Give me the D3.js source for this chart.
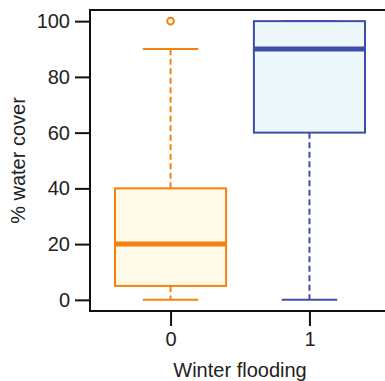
<!DOCTYPE html>
<html><head><meta charset="utf-8">
<script src="https://cdn.jsdelivr.net/npm/d3@7"></script>
<style>html,body{margin:0;padding:0;background:#fff;overflow:hidden}</style>
</head><body>
<svg id="c" width="385" height="381"></svg>
<script>
const categories = ["0", "1"];
const q1 = [5, 60];
const medians = [20, 90];
const q3 = [40, 100];
const whiskerLow = [0, 0];
const whiskerHigh = [90, 100];
const outliers = [[100], []];
const yTicks = [0, 20, 40, 60, 80, 100];
const strokeColors = ["#F5820F", "#3F4DAA"];
const fillColors = ["#FFF9E8", "#EDF8FA"];

const svg = d3.select("#c");
const font = "'Liberation Sans', Arial, Helvetica, sans-serif";
const fs = 20;
const L = 90, R = 390, T = 10, B = 311;
const x = d3.scaleLinear().domain([0.42, 2.58]).range([L, R]);
const y = d3.scaleLinear().domain([-4, 104]).range([B, T]);
const hw = 0.4, sw = 0.2;

categories.forEach((c, i) => {
  const cx = x(i + 1);
  const g = svg.append("g");
  const col = strokeColors[i];
  g.append("line").attr("x1", cx).attr("x2", cx).attr("y1", y(q3[i])).attr("y2", y(whiskerHigh[i]))
    .attr("stroke", col).attr("stroke-width", 2).attr("stroke-dasharray", "6,3.5");
  g.append("line").attr("x1", cx).attr("x2", cx).attr("y1", y(q1[i])).attr("y2", y(whiskerLow[i]))
    .attr("stroke", col).attr("stroke-width", 2).attr("stroke-dasharray", "6,3.5");
  [whiskerLow[i], whiskerHigh[i]].forEach(v => {
    g.append("line").attr("x1", x(i + 1 - sw)).attr("x2", x(i + 1 + sw)).attr("y1", y(v)).attr("y2", y(v))
      .attr("stroke", col).attr("stroke-width", 2);
  });
  g.append("rect").attr("x", x(i + 1 - hw)).attr("width", x(i + 1 + hw) - x(i + 1 - hw))
    .attr("y", y(q3[i])).attr("height", y(q1[i]) - y(q3[i]))
    .attr("fill", fillColors[i]).attr("stroke", col).attr("stroke-width", 2);
  g.append("line").attr("x1", x(i + 1 - hw)).attr("x2", x(i + 1 + hw)).attr("y1", y(medians[i])).attr("y2", y(medians[i]))
    .attr("stroke", col).attr("stroke-width", 5);
  outliers[i].forEach(v => {
    g.append("circle").attr("cx", cx).attr("cy", y(v)).attr("r", 3.3)
      .attr("fill", "none").attr("stroke", col).attr("stroke-width", 2);
  });
});

svg.append("rect").attr("x", L).attr("y", T).attr("width", R - L).attr("height", B - T)
  .attr("fill", "none").attr("stroke", "#111").attr("stroke-width", 2);

const yAxis = d3.axisLeft(y).tickValues(yTicks).tickSize(15).tickPadding(5);
const ya = svg.append("g").attr("transform", `translate(${L},0)`).call(yAxis);
ya.select(".domain").remove();
ya.selectAll(".tick line").attr("stroke", "#111").attr("stroke-width", 2);
ya.selectAll("text").attr("font-family", font).attr("font-size", fs).attr("fill", "#222");

const xAxis = d3.axisBottom(x).tickValues([1, 2]).tickFormat((d) => categories[d - 1]).tickSize(15).tickPadding(8);
const xa = svg.append("g").attr("transform", `translate(0,${B})`).call(xAxis);
xa.select(".domain").remove();
xa.selectAll(".tick line").attr("stroke", "#111").attr("stroke-width", 2);
xa.selectAll("text").attr("font-family", font).attr("font-size", fs).attr("fill", "#222").attr("dy", "0.62em");

svg.append("text").attr("x", (L + R) / 2).attr("y", 377).attr("text-anchor", "middle")
  .attr("font-family", font).attr("font-size", fs).attr("fill", "#222").text("Winter flooding");
svg.append("text").attr("transform", `translate(25,${(T + B) / 2}) rotate(-90)`).attr("text-anchor", "middle")
  .attr("font-family", font).attr("font-size", fs).attr("fill", "#222").text("% water cover");
</script>
</body></html>
